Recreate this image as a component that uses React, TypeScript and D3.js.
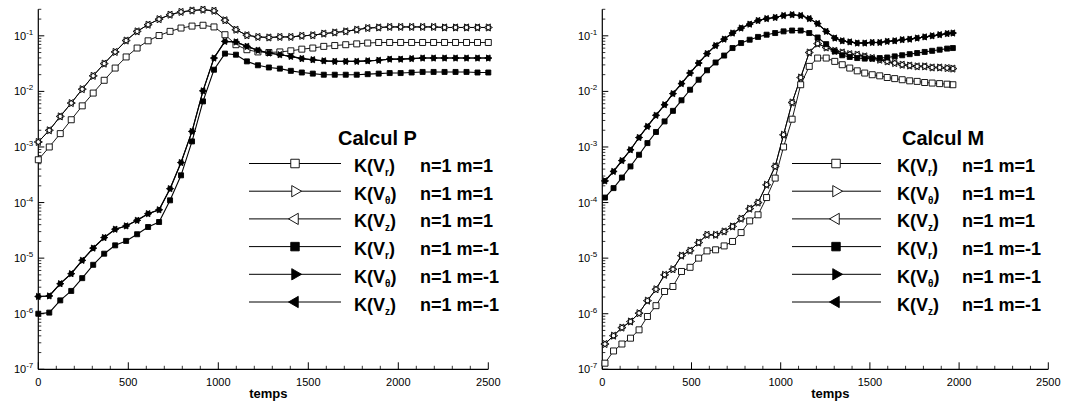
import * as d3 from 'd3'

const W = 1073
const H = 406
const FONT = "'Liberation Sans', Arial, Helvetica, sans-serif"

// sample times (temps) of the two runs
const timesP = [
  0, 61, 122, 183, 244, 305, 366, 427, 488, 549, 610, 671, 732, 793, 854, 915, 976, 1037, 1098, 1159, 1220,
  1281, 1342, 1403, 1464, 1525, 1586, 1647, 1708, 1769, 1830, 1891, 1952, 2013, 2074, 2135, 2196, 2257, 2318,
  2379, 2440, 2500,
]
const timesM = [
  15, 63, 110, 158, 206, 253, 301, 349, 396, 444, 492, 540, 587, 635, 683, 730, 778, 826, 873, 921, 969, 1016,
  1064, 1112, 1160, 1207, 1255, 1303, 1345, 1387, 1429, 1471, 1513, 1555, 1597, 1639, 1681, 1723, 1765, 1807,
  1849, 1891, 1933, 1965,
]

// log10 of K. "Pos" = n=1 m=1, "Neg" = n=1 m=-1
const pVrPos = [
  -3.23, -3.0, -2.76, -2.51, -2.26, -2.03, -1.8, -1.58, -1.38, -1.22, -1.09, -0.995, -0.92, -0.86, -0.825, -0.81,
  -0.84, -0.98, -1.16, -1.25, -1.29, -1.3, -1.29, -1.27, -1.24, -1.22, -1.19, -1.175, -1.16, -1.145, -1.13, -1.12,
  -1.12, -1.12, -1.12, -1.12, -1.12, -1.12, -1.12, -1.12, -1.12, -1.12,
]
const pVthPos = [
  -2.91, -2.7, -2.45, -2.21, -1.96, -1.72, -1.5, -1.29, -1.085, -0.92, -0.8, -0.7, -0.62, -0.57, -0.545, -0.53,
  -0.55, -0.72, -0.89, -0.99, -1.02, -1.03, -1.02, -1.02, -1.0, -0.99, -0.96, -0.94, -0.92, -0.89, -0.86, -0.85,
  -0.84, -0.84, -0.84, -0.84, -0.84, -0.85, -0.85, -0.85, -0.85, -0.85,
]
const pVzPos = pVthPos // the two curves lie on top of each other
const pVrNeg = [
  -6.0, -5.98, -5.76, -5.59, -5.36, -5.12, -4.92, -4.77, -4.69, -4.57, -4.44, -4.35, -3.96, -3.51, -2.9, -2.18,
  -1.61, -1.32, -1.34, -1.46, -1.53, -1.57, -1.59, -1.63, -1.66, -1.68, -1.7, -1.7, -1.7, -1.7, -1.69, -1.68,
  -1.67, -1.67, -1.66, -1.65, -1.65, -1.65, -1.65, -1.65, -1.66, -1.66,
]
const pVthNeg = [
  -5.69, -5.68, -5.46, -5.28, -5.04, -4.82, -4.63, -4.48, -4.42, -4.32, -4.2, -4.13, -3.75, -3.28, -2.72, -1.99,
  -1.4, -1.1, -1.11, -1.19, -1.26, -1.31, -1.34, -1.37, -1.41, -1.43, -1.45, -1.46, -1.46, -1.46, -1.45, -1.44,
  -1.42, -1.42, -1.41, -1.4, -1.4, -1.4, -1.4, -1.4, -1.4, -1.4,
]
const pVzNeg = pVthNeg

const mVrPos = [
  -6.89, -6.67, -6.545, -6.44, -6.29, -6.05, -5.855, -5.6, -5.51, -5.24, -5.165, -5.0, -4.87, -4.85, -4.78, -4.7,
  -4.54, -4.33, -4.22, -3.91, -3.56, -3.0, -2.5, -1.88, -1.55, -1.4, -1.4, -1.46, -1.52, -1.58, -1.63, -1.67,
  -1.7, -1.72, -1.75, -1.77, -1.79, -1.81, -1.82, -1.84, -1.85, -1.86, -1.87, -1.88,
]
const mVthPos = [
  -6.545, -6.395, -6.25, -6.14, -5.99, -5.765, -5.56, -5.3, -5.2, -4.955, -4.865, -4.72, -4.58, -4.58, -4.52,
  -4.43, -4.29, -4.11, -4.0, -3.68, -3.35, -2.78, -2.2, -1.75, -1.3, -1.14, -1.21, -1.27, -1.3, -1.33, -1.34,
  -1.37, -1.4, -1.43, -1.46, -1.49, -1.52, -1.535, -1.55, -1.55, -1.57, -1.57, -1.58, -1.59,
]
const mVzPos = mVthPos
const mVrNeg = [
  -3.91, -3.74, -3.55, -3.35, -3.14, -2.93, -2.73, -2.54, -2.35, -2.16, -1.97, -1.79, -1.62, -1.48, -1.355, -1.22,
  -1.13, -1.07, -1.02, -0.98, -0.95, -0.92, -0.905, -0.905, -0.95, -1.03, -1.15, -1.28, -1.35, -1.38, -1.4, -1.41,
  -1.41, -1.4, -1.39, -1.37, -1.35, -1.33, -1.31, -1.29, -1.27, -1.25, -1.23, -1.22,
]
const mVthNeg = [
  -3.61, -3.44, -3.245, -3.05, -2.83, -2.63, -2.43, -2.24, -2.04, -1.86, -1.67, -1.49, -1.32, -1.175, -1.06,
  -0.95, -0.86, -0.79, -0.725, -0.69, -0.67, -0.635, -0.62, -0.635, -0.69, -0.78, -0.92, -1.04, -1.09, -1.11,
  -1.13, -1.13, -1.12, -1.12, -1.1, -1.09, -1.07, -1.06, -1.04, -1.02, -1.0, -0.98, -0.96, -0.95,
]
const mVzNeg = mVthNeg

const xTicks = [0, 500, 1000, 1500, 2000, 2500]
const yDecades = [-7, -6, -5, -4, -3, -2, -1]
const legendComps = ['r', 'θ', 'z', 'r', 'θ', 'z']
const legendModes = ['n=1 m=1', 'n=1 m=1', 'n=1 m=1', 'n=1 m=-1', 'n=1 m=-1', 'n=1 m=-1']

type Shape = 'square' | 'right' | 'left'
const SHAPES: Shape[] = ['square', 'right', 'left', 'square', 'right', 'left']
const FILLED = [false, false, false, true, true, true]

type Legend = { lineX1: number; lineX2: number; markX: number; kX: number; nX: number; titleX: number }
type PanelCfg = {
  title: string
  times: number[]
  series: number[][]
  x0: number
  x1: number
  legend: Legend
}

const panels: PanelCfg[] = [
  {
    title: 'Calcul P',
    times: timesP,
    series: [pVrPos, pVthPos, pVzPos, pVrNeg, pVthNeg, pVzNeg],
    x0: 38.3,
    x1: 488.3,
    legend: { lineX1: 249, lineX2: 341, markX: 295, kX: 354, nX: 420, titleX: 338 },
  },
  {
    title: 'Calcul M',
    times: timesM,
    series: [mVrPos, mVthPos, mVzPos, mVrNeg, mVthNeg, mVzNeg],
    x0: 602.3,
    x1: 1048.3,
    legend: { lineX1: 792, lineX2: 881, markX: 836, kX: 897, nX: 962, titleX: 902 },
  },
]

const Y_BOTTOM = 369.3
const Y_TOP = 9.3
const LEGEND_Y0 = 163.5
const LEGEND_STEP = 27.7

// squares take a side length, triangles a circumradius (centred on the centroid,
// so a right and a left one on the same point make a six-pointed star)
function markerPath(shape: Shape, cx: number, cy: number, s: number) {
  if (shape === 'square') {
    const h = s / 2
    return `M${cx - h},${cy - h}h${s}v${s}h${-s}Z`
  }
  const dir = shape === 'right' ? 1 : -1
  const hy = (s * Math.sqrt(3)) / 2
  return `M${cx + dir * s},${cy}L${cx - (dir * s) / 2},${cy - hy}L${cx - (dir * s) / 2},${cy + hy}Z`
}

function Panel({ cfg }: { cfg: PanelCfg }) {
  const x = d3.scaleLinear().domain([0, 2500]).range([cfg.x0, cfg.x1])
  const y = d3.scaleLog().domain([1e-7, 0.3]).range([Y_BOTTOM, Y_TOP])
  const line = d3
    .line<number>()
    .x((_, i) => x(cfg.times[i]))
    .y((d) => y(10 ** d))

  const minorY: number[] = []
  yDecades.forEach((e) => {
    for (let k = 2; k <= 9; k++) {
      const v = k * 10 ** e
      if (v <= 0.3 + 1e-9) minorY.push(v)
    }
  })
  const minorX = d3.range(0, 2501, 100).filter((t) => t % 500 !== 0)

  const markSize = (shape: Shape, filled: boolean) =>
    shape === 'square' ? (filled ? 5 : 6) : filled ? 3.6 : 4.1

  // markers: fill pass first, then outline pass, so overlapping triangles read as a star
  const fills: JSX.Element[] = []
  const outlines: JSX.Element[] = []
  cfg.series.forEach((vals, si) => {
    const shape = SHAPES[si]
    const filled = FILLED[si]
    vals.forEach((v, i) => {
      const d = markerPath(shape, x(cfg.times[i]), y(10 ** v), markSize(shape, filled))
      fills.push(<path key={`f${si}-${i}`} d={d} fill={filled ? '#000' : '#fff'} />)
      outlines.push(<path key={`o${si}-${i}`} d={d} fill="none" stroke="#000" strokeWidth={0.9} />)
    })
  })

  const lg = cfg.legend
  return (
    <g>
      {/* axes */}
      <line x1={cfg.x0} x2={cfg.x0} y1={Y_TOP} y2={Y_BOTTOM} stroke="#000" strokeWidth={1.2} />
      <line x1={cfg.x0} x2={cfg.x1} y1={Y_BOTTOM} y2={Y_BOTTOM} stroke="#000" strokeWidth={1.2} />
      {yDecades.map((e) => (
        <g key={`yd${e}`}>
          <line x1={cfg.x0} x2={cfg.x0 + 6} y1={y(10 ** e)} y2={y(10 ** e)} stroke="#000" />
          <text x={cfg.x0 - 5} y={y(10 ** e) + 4} textAnchor="end" fontSize={11} fontFamily={FONT}>
            10
            <tspan fontSize={8} dy={-5}>
              {e}
            </tspan>
          </text>
        </g>
      ))}
      {minorY.map((v) => (
        <line key={`ym${v}`} x1={cfg.x0} x2={cfg.x0 + 3} y1={y(v)} y2={y(v)} stroke="#000" strokeWidth={0.8} />
      ))}
      {xTicks.map((t) => (
        <g key={`xt${t}`}>
          <line x1={x(t)} x2={x(t)} y1={Y_BOTTOM} y2={Y_BOTTOM - 7} stroke="#000" />
          <text x={x(t)} y={Y_BOTTOM + 17} textAnchor="middle" fontSize={11} fontFamily={FONT}>
            {t}
          </text>
        </g>
      ))}
      {minorX.map((t) => (
        <line key={`xm${t}`} x1={x(t)} x2={x(t)} y1={Y_BOTTOM} y2={Y_BOTTOM - 3.5} stroke="#000" strokeWidth={0.8} />
      ))}
      <text x={x(1250) + 5} y={Y_BOTTOM + 29} textAnchor="middle" fontSize={13} fontWeight="bold" fontFamily={FONT}>
        temps
      </text>

      {/* curves */}
      {cfg.series.map((vals, si) => (
        <path key={`l${si}`} d={line(vals) ?? ''} fill="none" stroke="#000" strokeWidth={FILLED[si] ? 1.1 : 0.9} />
      ))}
      {fills}
      {outlines}

      {/* legend */}
      <text x={lg.titleX} y={145} fontSize={20} fontWeight="bold" fontFamily={FONT}>
        {cfg.title}
      </text>
      {legendComps.map((c, i) => {
        const ly = LEGEND_Y0 + LEGEND_STEP * i
        const shape = SHAPES[i]
        const s = shape === 'square' ? 8.5 : 6.5
        return (
          <g key={`lg${i}`}>
            <line x1={lg.lineX1} x2={lg.lineX2} y1={ly} y2={ly} stroke="#000" strokeWidth={1} />
            <path
              d={markerPath(shape, lg.markX, ly, s)}
              fill={FILLED[i] ? '#000' : '#fff'}
              stroke="#000"
              strokeWidth={0.9}
            />
            <text x={lg.kX} y={ly + 8.5} fontSize={18} fontWeight="bold" fontFamily={FONT}>
              K(V
              <tspan fontSize={10} dy={4}>
                {c}
              </tspan>
              <tspan dy={-4}>)</tspan>
            </text>
            <text x={lg.nX} y={ly + 8.5} fontSize={18} fontWeight="bold" fontFamily={FONT}>
              {legendModes[i]}
            </text>
          </g>
        )
      })}
    </g>
  )
}

export default function App() {
  return (
    <svg
      width={W}
      height={H}
      viewBox={`0 0 ${W} ${H}`}
      style={{ position: 'absolute', left: 0, top: 0, background: '#fff' }}
    >
      <rect width={W} height={H} fill="#fff" />
      {panels.map((p) => (
        <Panel key={p.title} cfg={p} />
      ))}
    </svg>
  )
}
